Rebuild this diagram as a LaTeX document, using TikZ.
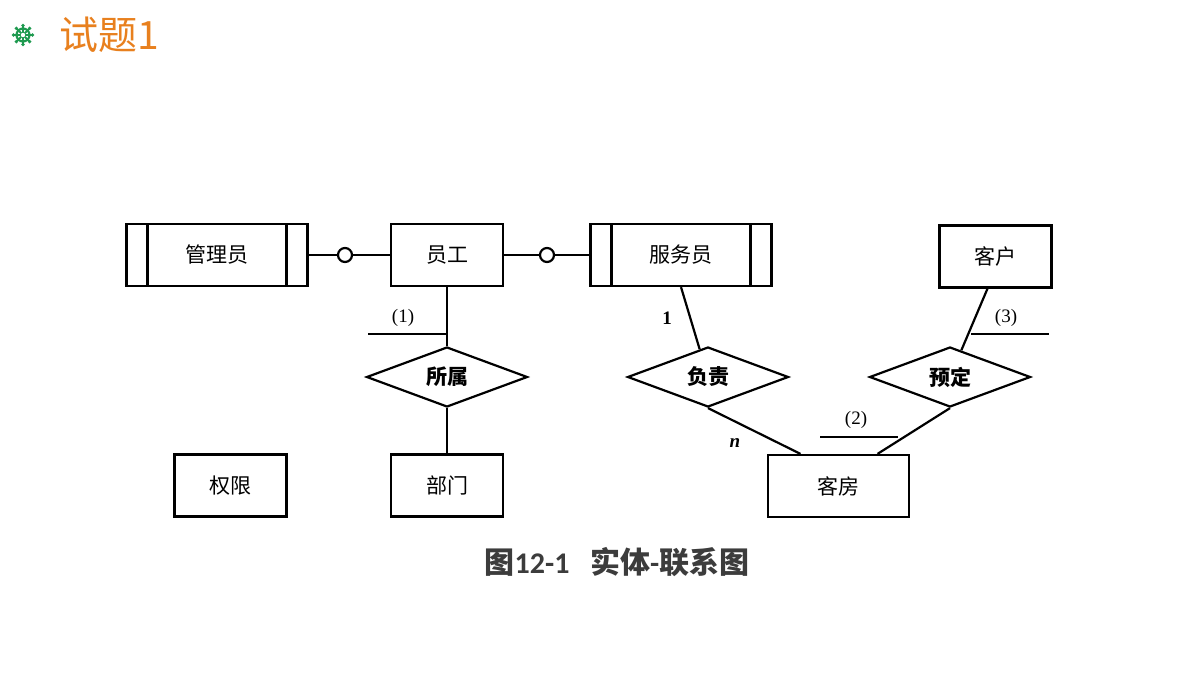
\documentclass[tikz,border=0pt]{standalone}
\usepackage{fontspec}
\setmainfont{Liberation Serif}
\newfontfamily\cjk{Noto Sans CJK SC}
\newfontfamily\capfont{Carlito}
\usetikzlibrary{positioning, shapes.geometric}
\definecolor{titleorange}{HTML}{E8801E}
\definecolor{wheelgreen}{HTML}{1F9A50}
\definecolor{captiongray}{HTML}{3C3C3C}

\begin{document}
\begin{tikzpicture}[
    x=1pt, y=-1pt,
    line width=2.2pt,
    every node/.style={font=\cjk\fontsize{21}{24}\selectfont},
    entity/.style={rectangle, draw, minimum width=112pt, minimum height=62pt, inner sep=0pt},
    weakentity/.style={entity, minimum width=181pt, path picture={
        \draw ([xshift=21pt]path picture bounding box.north west) -- ([xshift=21pt]path picture bounding box.south west);
        \draw ([xshift=-21pt]path picture bounding box.north east) -- ([xshift=-21pt]path picture bounding box.south east);}},
    relation/.style={diamond, draw, aspect=2.7, minimum width=161pt, minimum height=60pt, inner sep=0pt, font=\cjk\bfseries\fontsize{21}{24}\selectfont},
    optional/.style={circle, draw, fill=white, minimum size=14pt, inner sep=0pt},
    blank/.style={font=\fontsize{19}{22}\selectfont}
]
\useasboundingbox (0,0) rectangle (1180,683);

% Title
\begin{scope}[shift={(23,35)}, wheelgreen]
  \foreach \a in {0,45,...,315} {
    \draw[line width=2pt] (0,0) -- (\a:9.5);
    \fill (\a:9.5) circle (1.8);
  }
  \draw[line width=2.2pt] (0,0) circle (6.5);
  \fill[white] (0,0) circle (2.2);
\end{scope}
\node[font=\cjk\fontsize{39}{42}\selectfont, text=titleorange, anchor=west] (title) at (55,35) {试题1};

% Entities
\node[weakentity] (manager) at (217,255) {管理员};
\node[optional] (opt1) at (345,255) {};
\node[entity] (staff) at (447,255) {员工};
\node[optional] (opt2) at (547,255) {};
\node[weakentity] (waiter) at (681,255) {服务员};
\node[entity] (customer) at (995.5,256.5) {客户};
\node[entity] (right) at (230.5,485.5) {权限};
\node[entity] (dept) at (447,485.5) {部门};
\node[entity, minimum width=141pt] (room) at (838.5,486) {客房};

% Relations
\node[relation] (belong) at (447,377) {所属};
\node[relation] (duty) at (708,377) {负责};
\node[relation] (book) at (950,377) {预定};

% Lines
\draw (manager) -- (opt1) -- (staff);
\draw (staff) -- (opt2) -- (waiter);
\draw (staff) -- (belong) -- (dept);
\draw (waiter.south) -- (duty);
\draw (duty.south) -- ([xshift=-38pt]room.north);
\draw ([xshift=-8pt]customer.south) -- (book);
\draw (book.south) -- ([xshift=39pt]room.north);

% Blanks
\coordinate (gap1) at (368,334);
\coordinate (gap2) at (820,437);
\coordinate (gap3) at (971,334);
\draw (gap1) -- (gap1 -| staff);
\draw (gap2) -- ++(78,0);
\draw (gap3) -- ++(78,0);
\node[blank] (lab1) at (403,318) {(1)};
\node[blank] (lab2) at (856,420) {(2)};
\node[blank] (lab3) at (1006,318) {(3)};
\node[blank, font=\bfseries\fontsize{19}{22}\selectfont] (one) at (667,318) {1};
\node[blank, font=\bfseries\itshape\fontsize{19}{22}\selectfont] (many) at (735,443) {n};

% Caption
\node[font=\cjk\bfseries\fontsize{30}{33}\selectfont, text=captiongray] (caption) at (617,562) {图{\capfont 12-1}\ \ \ 实体{\capfont -}联系图};

\end{tikzpicture}
\end{document}
